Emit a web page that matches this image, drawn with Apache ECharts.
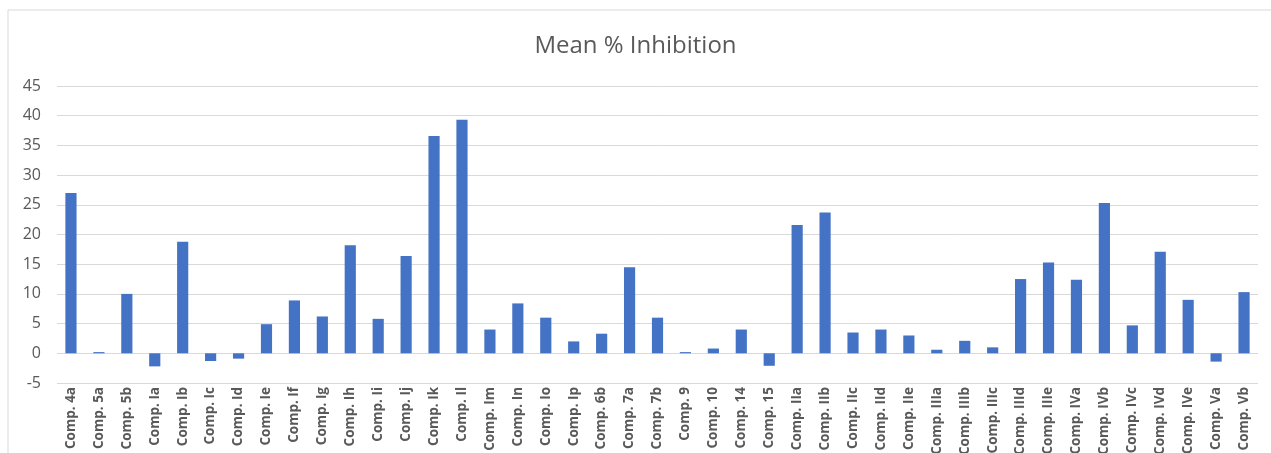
<!DOCTYPE html>
<html>
<head>
<meta charset="utf-8">
<script src="https://cdn.jsdelivr.net/npm/echarts@6/dist/echarts.min.js"></script>
<style>
html,body{margin:0;padding:0;background:#fff;}
#chart{width:1271px;height:453px;}
</style>
</head>
<body>
<div id="chart"></div>
<script>
const categories = ["Comp. 4a","Comp. 5a","Comp. 5b","Comp. Ia","Comp. Ib","Comp. Ic","Comp. Id","Comp. Ie","Comp. If","Comp. Ig","Comp. Ih","Comp. Ii","Comp. Ij","Comp. Ik","Comp. Il","Comp. Im","Comp. In","Comp. Io","Comp. Ip","Comp. 6b","Comp. 7a","Comp. 7b","Comp. 9","Comp. 10","Comp. 14","Comp. 15","Comp. IIa","Comp. IIb","Comp. IIc","Comp. IId","Comp. IIe","Comp. IIIa","Comp. IIIb","Comp. IIIc","Comp. IIId","Comp. IIIe","Comp. IVa","Comp. IVb","Comp. IVc","Comp. IVd","Comp. IVe","Comp. Va","Comp. Vb"];
const meanInhibition = [27.0,0.2,10.0,-2.2,18.8,-1.3,-0.9,4.9,8.9,6.2,18.2,5.8,16.4,36.6,39.3,4.0,8.4,6.0,2.0,3.3,14.5,6.0,0.2,0.8,4.0,-2.1,21.6,23.7,3.5,4.0,3.0,0.6,2.1,1.0,12.5,15.3,12.4,25.3,4.7,17.1,9.0,-1.4,10.3];
const yMin = -5, yMax = 45, yStep = 5;

const chart = echarts.init(document.getElementById('chart'), null, {renderer:'canvas'});
chart.setOption({
  animation:false,
  backgroundColor:'#ffffff',
  graphic:[{type:'rect',shape:{x:8,y:10,width:1300,height:500},style:{fill:'none',stroke:'#d9d9d9',lineWidth:1},silent:true}],
  title:{text:'Mean % Inhibition',left:'center',top:29,textStyle:{fontFamily:'Open Sans',fontSize:24,fontWeight:'normal',color:'#595959'}},
  grid:{left:57,right:13,top:86,bottom:70,containLabel:false,outerBoundsMode:'none'},
  xAxis:{type:'category',data:categories,
    axisLine:{show:false,onZero:false},axisTick:{show:false},
    axisLabel:{rotate:90,interval:0,margin:4,fontFamily:'Open Sans',fontSize:13.5,fontWeight:'bold',color:'#595959'}},
  yAxis:{type:'value',min:yMin,max:yMax,interval:yStep,
    axisLine:{show:false},axisTick:{show:false},
    axisLabel:{margin:16,fontFamily:'Open Sans',fontSize:16,color:'#595959'},
    splitLine:{lineStyle:{color:'#d9d9d9',width:1}}},
  series:[{type:'bar',data:meanInhibition,barWidth:'40%',itemStyle:{color:'#4472c4'}}]
});
</script>
</body>
</html>
